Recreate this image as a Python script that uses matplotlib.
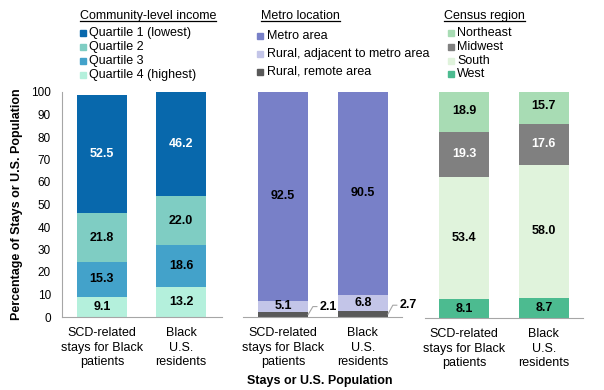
import matplotlib
matplotlib.use("Agg")
import matplotlib.pyplot as plt
from matplotlib.patches import Rectangle
from matplotlib.lines import Line2D

plt.rcParams['font.family'] = ['Liberation Sans', 'DejaVu Sans']

W, H = 604, 390

# Data
categories = ["SCD-related\nstays for Black\npatients", "Black\nU.S.\nresidents"]

income_title = "Community-level income"
income_labels = ["Quartile 1 (lowest)", "Quartile 2", "Quartile 3", "Quartile 4 (highest)"]
income_q1 = [52.5, 46.2]
income_q2 = [21.8, 22.0]
income_q3 = [15.3, 18.6]
income_q4 = [9.1, 13.2]

metro_title = "Metro location"
metro_labels = ["Metro area", "Rural, adjacent to metro area", "Rural, remote area"]
metro_area = [92.5, 90.5]
metro_adjacent = [5.1, 6.8]
metro_remote = [2.1, 2.7]

region_title = "Census region"
region_labels = ["Northeast", "Midwest", "South", "West"]
region_northeast = [18.9, 15.7]
region_midwest = [19.3, 17.6]
region_south = [53.4, 58.0]
region_west = [8.1, 8.7]

income_colors = ["#0868ac", "#7fcdc3", "#43a2ca", "#b4f0dc"]
metro_colors = ["#7880c8", "#c3c5e8", "#595959"]
region_colors = ["#a8dcb4", "#808080", "#e0f3dc", "#4cbb90"]

fig = plt.figure(figsize=(W / 100, H / 100), dpi=100)


def fx(px):
    return px / W


def fy(py):
    return 1 - py / H


def add_panel(left, right, bottom, top, xlim, ymax):
    ax = fig.add_axes([fx(left), fy(bottom), fx(right - left), fy(top) - fy(bottom)])
    ax.set_xlim(*xlim)
    ax.set_ylim(0, ymax)
    for s in ["top", "right"]:
        ax.spines[s].set_visible(False)
    ax.spines["bottom"].set_color("#a6a6a6")
    ax.spines["left"].set_color("#a6a6a6")
    ax.set_xticks([0, 1])
    ax.set_xticklabels(categories, fontsize=9, linespacing=1.32)
    ax.tick_params(axis="both", length=0, pad=7)
    return ax


def stack(ax, series, colors, text_colors, skip=()):
    x = [0, 1]
    bottoms = [0, 0]
    # series given top-to-bottom (legend order); draw bottom-up
    for i in reversed(range(len(series))):
        vals = series[i]
        ax.bar(x, vals, bottom=bottoms, width=0.63, color=colors[i], linewidth=0)
        if i not in skip:
            for xi, v, b in zip(x, vals, bottoms):
                ax.text(xi, b + v / 2, f"{v:.1f}", ha="center", va="center",
                        fontsize=9, fontweight="bold", color=text_colors[i])
        bottoms = [b + v for b, v in zip(bottoms, vals)]


# Panel 1: income
ax1 = add_panel(62, 222, 317, 92, (-0.506, 1.519), 100)
ax1.set_yticks(range(0, 101, 10))
ax1.tick_params(axis="y", labelsize=8.5, pad=8)
stack(ax1, [income_q1, income_q2, income_q3, income_q4], income_colors,
      ["white", "black", "black", "black"])

# Panel 2: metro
ax2 = add_panel(243, 402, 317, 92, (-0.5, 1.49), 99.3)
ax2.spines["left"].set_visible(False)
ax2.set_yticks([])
stack(ax2, [metro_area, metro_adjacent, metro_remote], metro_colors,
      ["black", "black", "black"], skip=(2,))
for xi, v in zip([0, 1], metro_remote):
    xe = xi + 0.315
    ax2.plot([xe, xe + 0.06, xe + 0.11], [v / 2, v + 2.5, v + 2.5],
             color="#a6a6a6", lw=0.8, clip_on=False)
    ax2.text(xe + 0.15, v + 2.5, f"{v:.1f}", ha="left", va="center",
             fontsize=9, fontweight="bold", color="black", clip_on=False)

# Panel 3: census region
ax3 = add_panel(425, 583, 318, 92, (-0.49, 1.49), 98.3)
ax3.spines["left"].set_visible(False)
ax3.set_yticks([])
stack(ax3, [region_northeast, region_midwest, region_south, region_west], region_colors,
      ["black", "white", "black", "black"])

# Axis titles
fig.text(fx(17), fy(204), "Percentage of Stays or U.S. Population", rotation=90,
         ha="center", va="center", fontsize=9, fontweight="bold")
fig.text(fx(320), fy(381), "Stays or U.S. Population", ha="center", va="center",
         fontsize=9, fontweight="bold")

# Legends
titles = []


def legend(title, tx, ty, labels, colors, mx, tx2, rows):
    t = fig.text(fx(tx), fy(ty), title, ha="left", va="center", fontsize=9)
    titles.append(t)
    for lab, col, ry in zip(labels, colors, rows):
        fig.patches.append(Rectangle((fx(mx), fy(ry + 3)), fx(6), fy(0) - fy(6),
                                     transform=fig.transFigure, color=col))
        fig.text(fx(tx2), fy(ry), lab, ha="left", va="center", fontsize=9)


legend(income_title, 80, 16, income_labels, income_colors, 80, 89, [33, 47, 61, 75])
legend(metro_title, 261, 16, metro_labels, metro_colors, 257, 267, [36, 54, 72])
legend(region_title, 444, 16, region_labels, region_colors, 448, 457, [33, 47, 61, 74])

fig.canvas.draw()
r = fig.canvas.get_renderer()
for t in titles:
    bb = t.get_window_extent(r).transformed(fig.transFigure.inverted())
    fig.lines.append(Line2D([bb.x0, bb.x1], [fy(21), fy(21)], transform=fig.transFigure,
                            color="black", lw=0.9))

fig.savefig("out.png", dpi=100)
